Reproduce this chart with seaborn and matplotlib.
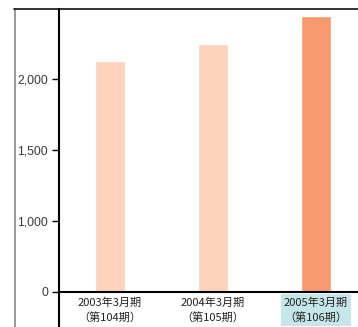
import matplotlib
matplotlib.use("Agg")
import matplotlib.pyplot as plt
from matplotlib.lines import Line2D
import seaborn as sns
import pandas as pd

# values (axis is broken: "0" sits where 500 would be)
periods = ["2003年3月期\n（第104期）", "2004年3月期\n（第105期）", "2005年3月期\n（第106期）"]
values = [2127, 2246, 2444]
bar_colors = ["#fdd3bc", "#fdd3bc", "#f89a6d"]
tick_values = [500, 1000, 1500, 2000]
tick_labels = ["0", "1,000", "1,500", "2,000"]

df = pd.DataFrame({"period": periods, "value": values})

sns.set_style("white")
plt.rcParams["font.family"] = ["Liberation Sans", "Noto Sans CJK JP", "DejaVu Sans"]

W, H = 358, 327
fig = plt.figure(figsize=(W / 100, H / 100), dpi=100)
ax = fig.add_axes([59 / W, (H - 292) / H, (W - 59) / W, (292 - 9) / H])

sns.barplot(data=df, x="period", y="value", hue="period", palette=bar_colors,
            width=0.29, legend=False, saturation=1, ax=ax)

ax.set_xlim(-0.495, 2.408)
ax.set_ylim(500, 2493)
ax.set_yticks(tick_values)
ax.set_yticklabels(tick_labels, fontsize=8.8, color="#3a3a3a")
ax.tick_params(axis="y", direction="out", length=5, width=1, color="black", pad=3, left=True)
ax.tick_params(axis="x", length=0, pad=4)
ax.set_xlabel("")
ax.set_ylabel("")

for lab in ax.get_xticklabels():
    lab.set_fontfamily(["Noto Sans CJK JP", "DejaVu Sans"])
    lab.set_fontsize(8)
    lab.set_color("#222222")
    lab.set_linespacing(1.45)
ax.get_xticklabels()[2].set_bbox(dict(facecolor="#c6e7ea", edgecolor="none", pad=2.2))

for side in ["top", "right"]:
    ax.spines[side].set_visible(False)
ax.spines["left"].set_color("black")
ax.spines["left"].set_linewidth(1.5)
ax.spines["bottom"].set_color("black")
ax.spines["bottom"].set_linewidth(1.5)

# left spine continues below the zero line
ax.plot([0, 0], [-(327 - 292) / 283, 0], transform=ax.transAxes, color="black",
        lw=1.5, clip_on=False)

# outer frame: gray line at left, black line on top
fig.add_artist(Line2D([14.5 / W, 14.5 / W], [0, (H - 9) / H], color="#888888", lw=1.2))
fig.add_artist(Line2D([14 / W, 1], [(H - 9) / H, (H - 9) / H], color="#111111", lw=1.2))

fig.savefig("out.png", dpi=100)
